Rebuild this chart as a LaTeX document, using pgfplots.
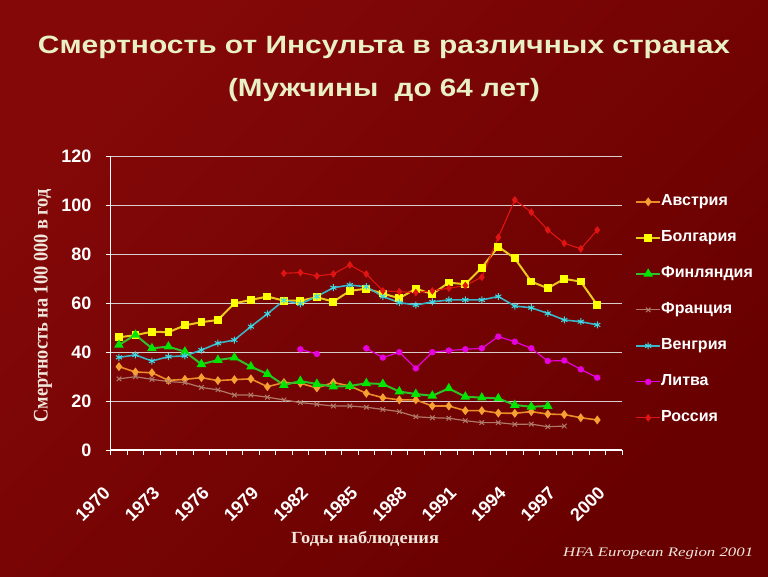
\documentclass[border=0pt]{standalone}
\usepackage{fontspec}
\setmainfont{Liberation Sans}
\newfontfamily\serif{Liberation Serif}
\usepackage{graphicx}
\usepackage{pgfplots}
\usepackage{pgfplotstable}
\pgfplotsset{compat=1.18}
\definecolor{bgA}{RGB}{132,8,8}
\definecolor{bgB}{RGB}{104,0,0}
\definecolor{titlec}{RGB}{232,240,196}
\definecolor{labelc}{RGB}{240,230,220}
\definecolor{gridc}{RGB}{215,205,205}
\definecolor{austria}{RGB}{235,140,40}
\definecolor{austriaM}{RGB}{245,160,50}
\definecolor{bulgL}{RGB}{235,200,30}
\definecolor{bulgM}{RGB}{255,255,0}
\definecolor{finL}{RGB}{50,190,40}
\definecolor{finM}{RGB}{0,230,0}
\definecolor{fraL}{RGB}{175,120,105}
\definecolor{hunL}{RGB}{60,180,200}
\definecolor{hunM}{RGB}{60,220,230}
\definecolor{litL}{RGB}{230,0,220}
\definecolor{rusL}{RGB}{225,20,20}

\pgfplotstableread{
year aut bul fin fra hun lit rus
1970 34.1 46.1 43.0 29.1 37.9 nan nan
1971 31.9 47.0 47.1 30.0 38.9 nan nan
1972 31.6 48.4 41.6 28.9 36.4 nan nan
1973 28.5 48.2 42.3 28.0 38.2 nan nan
1974 28.9 51.0 40.2 27.6 38.5 nan nan
1975 29.6 52.3 35.1 25.6 40.9 nan nan
1976 28.4 53.2 36.8 24.6 43.7 nan nan
1977 28.8 60.0 37.8 22.5 45.0 nan nan
1978 29.1 61.4 34.1 22.5 50.5 nan nan
1979 25.9 62.8 31.1 21.6 55.7 nan nan
1980 27.6 61.1 26.6 20.5 61.2 nan 72.3
1981 27.3 61.1 28.2 19.4 59.8 41.2 72.6
1982 25.4 62.5 27.0 18.7 62.8 39.3 71.2
1983 27.6 60.7 25.9 18.0 66.4 nan 72.0
1984 26.2 65.1 26.2 18.0 67.5 nan 75.7
1985 23.2 66.0 27.3 17.5 66.8 41.6 72.0
1986 21.4 64.0 27.0 16.6 62.8 37.8 65.1
1987 20.5 62.1 23.9 15.7 60.3 40.0 64.8
1988 20.5 66.0 22.9 13.6 59.3 33.4 64.4
1989 18.0 63.8 22.2 13.2 60.6 40.0 65.1
1990 18.0 68.5 25.2 13.0 61.4 40.7 66.2
1991 16.1 67.8 21.8 12.0 61.4 41.2 67.3
1992 16.1 74.6 21.4 11.2 61.4 41.6 70.7
1993 15.1 83.2 21.1 11.2 62.8 46.4 87.0
1994 15.0 78.4 18.4 10.5 58.9 44.3 102.3
1995 15.7 68.9 17.7 10.6 58.2 41.6 97.3
1996 14.7 66.2 18.0 9.5 55.9 36.4 90.0
1997 14.5 70.0 nan 9.8 53.2 36.6 84.6
1998 13.2 68.9 nan nan 52.5 33.0 82.3
1999 12.3 59.3 nan nan 51.2 29.6 90.0
}\datatable

\begin{document}
\begin{tikzpicture}
\path[use as bounding box] (0pt,0pt) rectangle (768pt,576pt);
\shade[top color=bgA, bottom color=bgB, shading angle=45] (0pt,0pt) rectangle (768pt,576pt);
\node[text=titlec, anchor=base, inner sep=0pt] at (384pt,522pt)
  {\resizebox{692pt}{\height}{\fontsize{25}{28}\selectfont\bfseries Смертность от Инсульта в различных странах}};
\node[text=titlec, anchor=base, inner sep=0pt] at (384pt,479pt)
  {\resizebox{312pt}{\height}{\fontsize{25}{28}\selectfont\bfseries (Мужчины\ \ до 64 лет)}};
\node[rotate=90, text=labelc, inner sep=0pt] at (43pt,270pt)
  {\resizebox{233pt}{1.15\height}{\fontsize{18}{18}\selectfont\serif\bfseries Смертность на 100 000 в год}};
\node[text=labelc, anchor=base, inner sep=0pt] at (365pt,33pt)
  {\resizebox{148pt}{\height}{\fontsize{17}{17}\selectfont\serif\bfseries Годы наблюдения}};
\node[text=labelc, anchor=base west, inner sep=0pt] at (563pt,20pt)
  {\resizebox{190pt}{\height}{\fontsize{13}{13}\selectfont\serif\itshape HFA European Region 2001}};

\begin{axis}[
  at={(110.7pt,126pt)}, anchor=south west,
  scale only axis, width=511.3pt, height=293.3pt,
  xmin=1969.5, xmax=2000.5, ymin=0, ymax=120,
  axis x line*=bottom, axis y line*=left,
  axis line style={draw=white, line width=1.2pt, -},
  xtick={1970,1973,...,2000},
  xticklabels={1970,1973,1976,1979,1982,1985,1988,1991,1994,1997,2000},
  minor xtick={1969.5,1970.5,...,2000.5},
  every major x tick/.append style={draw=none},
  ytick={0,20,...,120}, yticklabels={0,20,40,60,80,100,120},
  tick align=outside, major tick length=5pt, minor tick length=5pt,
  tick style={white, line width=1pt},
  ymajorgrids, grid style={gridc, line width=1.2pt},
  tick label style={text=white, font=\fontsize{18}{18}\selectfont\bfseries},
  xticklabel style={inner sep=0pt, xshift=-12pt, yshift=-35pt, rotate=45, anchor=east},
  yticklabel style={inner sep=0pt, anchor=east, xshift=-14pt},
  unbounded coords=jump,
  legend style={at={(1.0254,0.874)}, anchor=north west, draw=none, fill=none,
    text=white, font=\fontsize{16}{16}\selectfont\bfseries, inner sep=0pt,
    row sep=20pt, nodes={inner sep=0pt, text height=12pt, text depth=4pt},
    /tikz/every even column/.append style={column sep=5pt}},
  legend cell align=left,
  legend image code/.code={\draw[mark repeat=2,mark phase=2,#1] plot coordinates {(0pt,0pt) (12pt,0pt) (24pt,0pt)};},
]
\addplot[color=austria, line width=1.6pt, mark=diamond*, mark size=3.2pt, mark options={solid, fill=austriaM, draw=austriaM}] table[x=year,y=aut]{\datatable};
\addlegendentry{Австрия}
\addplot[color=bulgL, line width=2pt, mark=square*, mark size=2.9pt, mark options={solid, fill=bulgM, draw=bulgM}] table[x=year,y=bul]{\datatable};
\addlegendentry{Болгария}
\addplot[color=finL, line width=2pt, mark=triangle*, mark size=3.6pt, mark options={solid, fill=finM, draw=finM}] table[x=year,y=fin]{\datatable};
\addlegendentry{Финляндия}
\addplot[color=fraL, line width=1.2pt, mark=x, mark size=3.2pt, mark options={solid, line width=1pt}] table[x=year,y=fra]{\datatable};
\addlegendentry{Франция}
\addplot[color=hunL, line width=1.6pt, mark=asterisk, mark size=3.5pt, mark options={solid, draw=hunM, line width=1pt}] table[x=year,y=hun]{\datatable};
\addlegendentry{Венгрия}
\addplot[color=litL, line width=1.2pt, mark=*, mark size=2.6pt, mark options={solid, fill=litL, draw=litL}] table[x=year,y=lit]{\datatable};
\addlegendentry{Литва}
\addplot[color=rusL, line width=1.1pt, mark=diamond*, mark size=3pt, mark options={solid, fill=rusL, draw=rusL}] table[x=year,y=rus]{\datatable};
\addlegendentry{Россия}
\end{axis}
\end{tikzpicture}
\end{document}
